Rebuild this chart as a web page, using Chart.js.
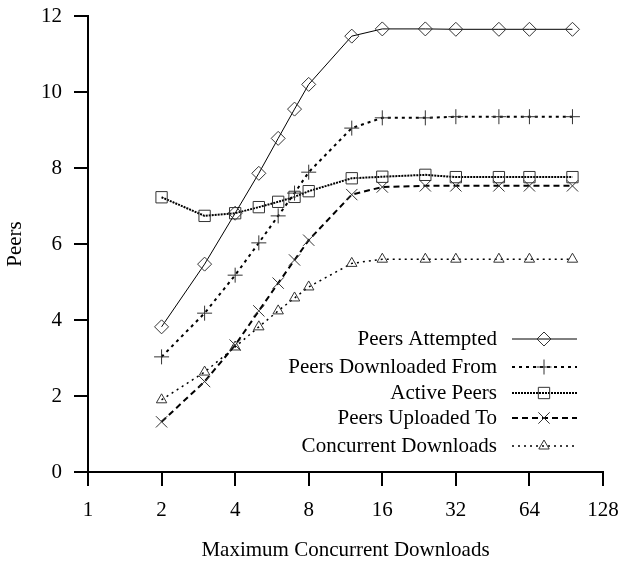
<!DOCTYPE html>
<html><head><meta charset="utf-8">
<script src="https://cdn.jsdelivr.net/npm/chart.js@4/dist/chart.umd.min.js"></script>
<style>html,body{margin:0;padding:0;background:#fff}#wrap{width:619px;height:563px}</style>
</head><body><div id="wrap"><canvas id="c" width="619" height="563"></canvas></div>
<script>
const maxDownloads = [2, 3, 4, 5, 6, 7, 8, 12, 16, 24, 32, 48, 64, 96];
const peersAttempted = [3.82, 5.47, 6.81, 7.86, 8.78, 9.55, 10.2, 11.47, 11.66, 11.66, 11.65, 11.65, 11.65, 11.65];
const peersDownloadedFrom = [3.03, 4.18, 5.18, 6.03, 6.74, 7.34, 7.89, 9.05, 9.32, 9.32, 9.35, 9.35, 9.35, 9.35];
const activePeers = [7.23, 6.74, 6.81, 6.97, 7.11, 7.24, 7.39, 7.73, 7.77, 7.82, 7.76, 7.76, 7.76, 7.76];
const peersUploadedTo = [1.32, 2.38, 3.34, 4.24, 4.97, 5.58, 6.1, 7.3, 7.5, 7.53, 7.53, 7.53, 7.53, 7.53];
const concurrentDownloads = [1.9, 2.63, 3.29, 3.82, 4.24, 4.58, 4.87, 5.49, 5.6, 5.6, 5.6, 5.6, 5.6, 5.6];
const xTicks = [1, 2, 4, 8, 16, 32, 64, 128];
const yTicks = [0, 2, 4, 6, 8, 10, 12];

const FONT = "'Liberation Serif', 'DejaVu Serif', serif";
const pts = arr => maxDownloads.map((x, i) => ({x: x, y: arr[i]}));

const series = [
  {label: 'Peers Attempted', data: peersAttempted, style: 'rectRot', r: 7, dash: [], w: 1},
  {label: 'Peers Downloaded From', data: peersDownloadedFrom, style: 'cross', r: 7.5, dash: [3, 4], w: 2},
  {label: 'Active Peers', data: activePeers, style: 'rect', r: 8, dash: [2, 1], w: 2},
  {label: 'Peers Uploaded To', data: peersUploadedTo, style: 'crossRot', r: 8, dash: [6, 4], w: 2},
  {label: 'Concurrent Downloads', data: concurrentDownloads, style: 'triangle', r: 6, dash: [2, 4], w: 1.5}
];

const legendPlugin = {
  id: 'gpLegend',
  afterDraw(chart) {
    const ctx = chart.ctx;
    const rows = [339, 367, 393, 418, 446];
    ctx.save();
    series.forEach((s, i) => {
      const y = rows[i];
      ctx.font = "21px " + FONT;
      ctx.fillStyle = '#000';
      ctx.textAlign = 'right';
      ctx.textBaseline = 'middle';
      ctx.fillText(s.label, 497, y);
      ctx.beginPath();
      ctx.setLineDash(s.dash);
      ctx.lineWidth = s.w;
      ctx.strokeStyle = '#000';
      ctx.moveTo(512, y); ctx.lineTo(577, y);
      ctx.stroke();
      ctx.setLineDash([]);
      ctx.strokeStyle = '#333';
      ctx.fillStyle = 'rgba(0,0,0,0)';
      ctx.lineWidth = 1;
      Chart.helpers.drawPoint(ctx, {pointStyle: s.style, radius: s.r, borderWidth: 1, rotation: 0}, 544, y);
    });
    ctx.restore();
  }
};

new Chart(document.getElementById('c'), {
  type: 'line',
  data: {
    datasets: series.map(s => ({
      label: s.label,
      data: pts(s.data),
      borderColor: '#000',
      borderWidth: s.w,
      borderDash: s.dash,
      pointStyle: s.style,
      pointRadius: s.r,
      pointBorderColor: '#333',
      pointBackgroundColor: 'rgba(0,0,0,0)',
      pointBorderWidth: 1,
      tension: 0,
      fill: false
    }))
  },
  plugins: [legendPlugin],
  options: {
    responsive: false,
    animation: false,
    devicePixelRatio: 1,
    layout: {padding: 0},
    plugins: {legend: {display: false}, tooltip: {enabled: false}},
    scales: {
      x: {
        type: 'logarithmic', min: 1, max: 128,
        afterBuildTicks: sc => { sc.ticks = xTicks.map(v => ({value: v})); },
        afterFit: sc => { sc.height = 91; sc.paddingLeft = 0; sc.paddingRight = 16; },
        grid: {drawOnChartArea: false, tickLength: 14, color: '#000', lineWidth: 2},
        border: {color: '#000', width: 2},
        ticks: {color: '#000', font: {family: FONT, size: 21}, padding: 12, autoSkip: false, maxRotation: 0,
                callback: v => String(v)},
        title: {display: true, text: 'Maximum Concurrent Downloads', color: '#000', font: {family: FONT, size: 21, lineHeight: 1.2}, padding: {top: 4, bottom: 0}}
      },
      y: {
        type: 'linear', min: 0, max: 12,
        afterBuildTicks: sc => { sc.ticks = yTicks.map(v => ({value: v})); },
        afterFit: sc => { sc.width = 88; sc.paddingTop = 16; sc.paddingBottom = 0; },
        grid: {drawOnChartArea: false, tickLength: 14, color: '#000', lineWidth: 2},
        border: {color: '#000', width: 2},
        ticks: {color: '#000', font: {family: FONT, size: 21}, padding: 12},
        title: {display: true, text: 'Peers', color: '#000', font: {family: FONT, size: 21, lineHeight: 1.5}, padding: {top: 0, bottom: 4}}
      }
    }
  }
});
</script></body></html>
